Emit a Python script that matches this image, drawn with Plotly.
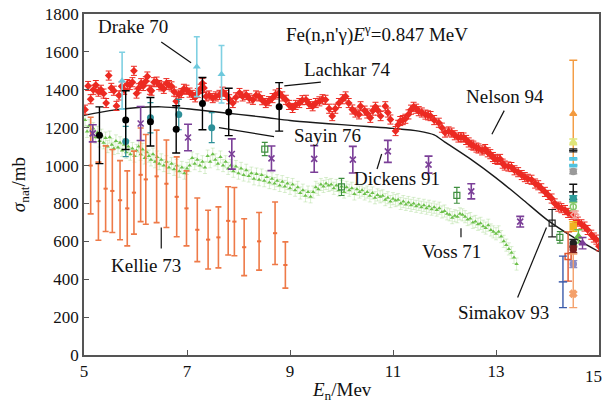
import plotly.graph_objects as go

SERIF = "Liberation Serif"

# ---------------- data ----------------
# Nelson 94 (red)
nelson_x = [5.02,5.08,5.13,5.18,5.23,5.28,5.33,5.38,5.43,5.48,5.53,5.58,5.63,5.68,5.73,5.78,5.84,5.89,5.94,5.97,
            6.02,6.06,6.11,6.15,6.20,6.23,6.28,6.31,6.36,6.41,6.46,6.50,6.55,6.60,6.65,6.70,6.75,6.79,6.84,6.89,
            6.94,6.99,7.05,7.11,7.16,7.21,7.26,7.30,7.33,7.37,7.43,7.50,7.56,7.63,7.69,7.76,7.82,7.89,7.95,8.02,
            8.08,8.15,8.21,8.28,8.34,8.40,8.46,8.53,8.59,8.66,8.72,8.79,8.85,8.92,8.98,9.05,9.11,9.18,9.24,9.31,
            9.37,9.44,9.50,9.57,9.63,9.69,9.76,9.82,9.88,9.95,10.02,10.08,10.14,10.21,10.27,10.34,10.37,10.45,10.50,10.56,
            10.61,10.66,10.71,10.76,10.85,10.90,10.95,11.05,11.10,11.14,11.19,11.24,11.30,11.35,11.40,11.45,11.50,11.56,11.63,11.68,
            11.73,11.80,11.89,11.95,12.01,12.08,12.14,12.20,12.27,12.32,12.37,12.42,12.47,12.52,12.56,12.62,12.66,12.73,12.79,12.84,
            12.89,12.94,12.98,13.03,13.08,13.13,13.17,13.24,13.30,13.36,13.43,13.50,13.56,13.62,13.69,13.76,13.82,13.88,13.95,14.01,
            14.08,14.14,14.21,14.27,14.34,14.40,14.47,14.53,14.59,14.66,14.72,14.78,14.85,14.90,14.95,15.00]
nelson_y = [1295,1420,1350,1400,1425,1390,1400,1380,1330,1475,1410,1395,1315,1370,1418,1400,1430,1425,1440,1500,
            1380,1408,1435,1420,1445,1470,1400,1395,1440,1443,1425,1418,1405,1435,1425,1418,1390,1339,1375,1383,
            1405,1400,1385,1373,1360,1383,1405,1435,1410,1365,1370,1356,1365,1373,1390,1373,1350,1330,1360,1383,
            1365,1373,1355,1347,1370,1365,1345,1330,1340,1356,1375,1383,1365,1347,1320,1304,1320,1330,1345,1347,
            1325,1313,1330,1339,1350,1347,1300,1261,1300,1330,1350,1365,1330,1296,1280,1270,1313,1290,1275,1252,
            1290,1310,1290,1261,1313,1280,1243,1182,1215,1235,1240,1247,1270,1295,1310,1300,1287,1280,1269,1265,
            1261,1240,1226,1200,1174,1180,1174,1160,1148,1150,1148,1135,1122,1110,1105,1095,1090,1080,1087,1070,
            1060,1045,1035,1030,1035,1010,1000,995,992,975,965,950,939,930,925,905,896,880,861,845,
            826,800,783,775,765,750,739,720,704,690,678,660,635,620,609,574]
nelson_err = 24

# Voss 71 (green)
voss_x = [5.02,5.06,5.10,5.14,5.18,5.22,5.26,5.30,5.34,5.38,5.42,5.46,5.50,5.54,5.58,5.62,5.66,5.70,5.74,5.78,
          5.82,5.86,5.90,5.94,5.98,6.02,6.06,6.10,6.14,6.18,6.22,6.26,6.30,6.34,6.38,6.42,6.46,6.50,6.55,6.60,
          6.65,6.70,6.75,6.80,6.85,6.90,6.95,7.00,7.05,7.10,7.15,7.20,7.25,7.30,7.35,7.40,7.45,7.50,7.55,7.60,
          7.65,7.70,7.75,7.80,7.85,7.90,7.95,8.00,8.05,8.10,8.15,8.20,8.25,8.30,8.35,8.40,8.45,8.50,8.55,8.60,
          8.65,8.70,8.75,8.80,8.85,8.90,8.95,9.00,9.05,9.10,9.15,9.20,9.25,9.30,9.35,9.40,9.45,9.50,9.55,9.60,
          9.65,9.70,9.75,9.80,9.85,9.90,9.95,10.00,10.05,10.10,10.15,10.20,10.25,10.30,10.35,10.40,10.45,10.50,10.55,10.60,
          10.65,10.70,10.75,10.80,10.85,10.90,10.95,11.00,11.05,11.10,11.15,11.20,11.25,11.30,11.35,11.40,11.45,11.50,11.55,11.60,
          11.65,11.70,11.75,11.80,11.85,11.90,11.95,12.00,12.05,12.10,12.15,12.20,12.25,12.30,12.35,12.40,12.45,12.50,12.55,12.60,
          12.65,12.70,12.75,12.80,12.85,12.90,12.95,13.00,13.05,13.10,13.15,13.20,13.25,13.30,13.35,13.40]
voss_y = [1240,1180,1210,1160,1195,1150,1175,1130,1160,1120,1145,1100,1150,1110,1090,1130,1095,1120,1080,1110,
          1070,1100,1060,1090,1050,1080,1100,1060,1085,1040,1070,1050,1030,1060,1020,1045,1010,1030,1000,1020,
          990,1010,980,1000,970,990,960,985,1000,1040,1010,1030,1000,1020,990,1050,1020,1060,1030,1010,
          1045,1000,1020,985,1000,970,995,960,985,950,975,945,960,930,955,925,950,920,940,910,
          930,905,920,895,915,890,905,880,900,870,885,855,870,840,860,835,860,885,875,900,
          890,905,895,900,880,895,870,890,860,885,870,880,850,875,860,870,850,860,840,855,
          830,845,835,840,820,830,810,825,815,820,800,810,795,805,790,800,785,795,780,790,
          775,785,770,780,765,775,755,760,745,740,725,735,730,745,740,730,715,720,700,705,
          690,695,680,670,685,660,650,640,650,625,600,580,560,540,515,480]
voss_err = 32

# Evaluation curve (black line)
eval_x = [5.0, 5.5, 6.0, 6.5, 7.0, 7.5, 8.0, 8.5, 9.0, 9.5, 10.0, 10.5, 11.0, 11.5, 11.8, 12.0, 12.5, 13.0, 13.5, 14.0, 14.5, 15.0]
eval_y = [1265, 1290, 1305, 1310, 1300, 1285, 1270, 1255, 1238, 1226, 1216, 1206, 1196, 1182, 1162, 1125, 1035, 935, 825, 712, 622, 545]

# Lachkar 74 (black filled circles)
lachkar_x = [5.30, 5.81, 6.29, 6.79, 7.30, 7.81, 8.79]
lachkar_y = [1160, 1240, 1231, 1191, 1327, 1283, 1310]
lachkar_err = [150, 155, 128, 125, 138, 125, 128]

# Drake 70 (light cyan triangles)
drake_x = [5.74, 7.19, 7.67]
drake_y = [1448, 1522, 1482]
drake_err = [150, 158, 152]

# Sayin 76 (teal circles)
sayin_x = [5.81, 6.29, 6.84, 7.48]
sayin_y = [1127, 1252, 1269, 1200]
sayin_err = [80, 80, 80, 79]

# Dickens 91 (purple crosses)
dickens_x = [5.17, 6.10, 7.02, 7.87, 8.64, 9.47, 10.22, 10.90, 11.69, 12.52, 13.47]
dickens_y = [1170, 1222, 1148, 1061, 1038, 1035, 1031, 1075, 1005, 864, 704]
dickens_err = [45, 90, 70, 80, 65, 70, 70, 58, 45, 40, 28]

# green open squares
gsq_x = [8.51, 10.00, 12.24, 14.24]
gsq_y = [1087, 887, 843, 621]
gsq_err = [35, 45, 42, 30]

# Simakov 93 (black open square)
simakov_x = [14.09]
simakov_y = [696]
simakov_err = [72]

# Kellie 73 (orange error bars)
kellie_x = [5.13, 5.28, 5.42, 5.55, 5.70, 5.84, 5.97, 6.10, 6.20, 6.41, 6.60, 6.80, 6.99,
            7.20, 7.41, 7.61, 7.80, 7.92, 8.11, 8.40, 8.71, 8.91]
kellie_y = [1000, 812, 878, 866, 817, 774, 857, 951, 927, 943, 904, 835, 774,
            661, 609, 621, 708, 704, 569, 600, 643, 475]
kellie_err = [255, 206, 226, 219, 209, 198, 219, 247, 237, 244, 231, 211, 198,
              168, 155, 161, 180, 180, 150, 152, 165, 122]

# 14.5 MeV cluster: x, y, error(+), error(-), colour, symbol
cl_x = [14.50, 14.50, 14.50, 14.50, 14.50, 14.50, 14.50, 14.50, 14.50, 14.53, 14.50, 14.60, 14.50, 14.50, 14.68, 14.40, 14.50, 14.30, 14.50]
cl_y = [1273, 1125, 1080, 1035, 1000, 969, 861, 826, 783, 740, 678, 626, 590, 558, 590, 520, 480, 386, 323]
cl_ep = [283, 15, 8, 6, 6, 12, 40, 15, 22, 20, 25, 35, 20, 18, 30, 130, 18, 136, 210]
cl_em = [270, 15, 8, 6, 6, 12, 40, 15, 22, 20, 25, 35, 20, 18, 30, 130, 18, 136, 73]
cl_col = ["#f39a3e", "#dfe57a", "#222222", "#4fc3e0", "#4fc3e0", "#9a9a9a", "#111111", "#2e9c9a", "#86c96b",
          "#f2a7a0", "#f0b323", "#6cc04a", "#222222", "#7a1c1c", "#7b3f98", "#e0552e", "#8c8cc4", "#3b5bab", "#f4a06a"]
cl_sym = ["triangle-up", "triangle-up", "line-ew", "line-ew", "line-ew", "circle", "line-ew", "circle", "circle-open",
          "diamond-open", "square", "triangle-up", "circle", "circle", "triangle-up", "square-open", "circle", "line-ew", "x"]

x_tickvals = [5, 7, 9, 11, 13, 15]
y_tickvals = [0, 200, 400, 600, 800, 1000, 1200, 1400, 1600, 1800]

# ---------------- figure ----------------
fig = go.Figure()

fig.add_trace(go.Scatter(
    x=voss_x, y=voss_y, mode="markers",
    marker=dict(symbol="triangle-up", size=4, color="#6cc04a"),
    error_y=dict(type="constant", value=voss_err, color="rgba(150,210,120,0.35)", thickness=1, width=2)))

fig.add_trace(go.Scatter(
    x=kellie_x, y=kellie_y, mode="markers",
    marker=dict(symbol="line-ew", size=3, color="#ee6f3c", line=dict(width=2, color="#ee6f3c")),
    error_y=dict(type="data", array=kellie_err, color="#ee7a48", thickness=1.6, width=3)))

fig.add_trace(go.Scatter(
    x=eval_x, y=eval_y, mode="lines", line=dict(color="#1a1a1a", width=1.4, shape="spline", smoothing=0.8)))

fig.add_trace(go.Scatter(
    x=nelson_x, y=nelson_y, mode="markers",
    marker=dict(symbol="diamond", size=6, color="#ec2a22"),
    error_y=dict(type="constant", value=nelson_err, color="#ec2a22", thickness=1, width=3)))

fig.add_trace(go.Scatter(
    x=drake_x, y=drake_y, mode="markers",
    marker=dict(symbol="triangle-up", size=7, color="#6cc8dc"),
    error_y=dict(type="data", array=drake_err, color="#7fd0e2", thickness=1.6, width=3)))

fig.add_trace(go.Scatter(
    x=sayin_x, y=sayin_y, mode="markers",
    marker=dict(symbol="circle", size=7, color="#2d8f98"),
    error_y=dict(type="data", array=sayin_err, color="#2d8f98", thickness=1.2, width=3)))

fig.add_trace(go.Scatter(
    x=dickens_x, y=dickens_y, mode="markers",
    marker=dict(symbol="x-thin", size=6, color="#7b3f98", line=dict(width=1.6, color="#7b3f98")),
    error_y=dict(type="data", array=dickens_err, color="#7b3f98", thickness=1.6, width=4)))

fig.add_trace(go.Scatter(
    x=gsq_x, y=gsq_y, mode="markers",
    marker=dict(symbol="square-open", size=6, color="#3f8f3f", line=dict(width=1.2)),
    error_y=dict(type="data", array=gsq_err, color="#3f8f3f", thickness=1.2, width=3)))

fig.add_trace(go.Scatter(
    x=simakov_x, y=simakov_y, mode="markers",
    marker=dict(symbol="square-open", size=6, color="#222222", line=dict(width=1.2)),
    error_y=dict(type="data", array=simakov_err, color="#222222", thickness=1.2, width=4)))

for i in range(len(cl_x)):
    fig.add_trace(go.Scatter(
        x=[cl_x[i]], y=[cl_y[i]], mode="markers",
        marker=dict(symbol=cl_sym[i], size=6, color=cl_col[i], line=dict(width=1.5, color=cl_col[i])),
        error_y=dict(type="data", array=[cl_ep[i]], arrayminus=[cl_em[i]], symmetric=False,
                     color=cl_col[i], thickness=1.4, width=4)))

fig.add_trace(go.Scatter(
    x=lachkar_x, y=lachkar_y, mode="markers",
    marker=dict(symbol="circle", size=7, color="#000000"),
    error_y=dict(type="data", array=lachkar_err, color="#000000", thickness=1.4, width=4)))

# ---------------- labels ----------------
labels = [
    ("Drake 70", 5.95, 1732),
    ("Fe(n,n'γ)<i>E</i><sup>γ</sup>=0.847 MeV", 10.68, 1698),
    ("Lachkar 74", 10.10, 1508),
    ("Nelson 94", 13.17, 1367),
    ("Sayin 76", 9.72, 1158),
    ("Dickens 91", 11.07, 934),
    ("Voss 71", 12.14, 548),
    ("Kellie 73", 6.20, 470),
    ("Simakov 93", 13.14, 224),
]
annotations = []
for t, ax_, ay_ in labels:
    annotations.append(dict(text=t, x=ax_, y=ay_, xref="x", yref="y", showarrow=False,
                            xanchor="center", yanchor="middle",
                            font=dict(family=SERIF, size=19, color="#111111")))

leaders = [
    (6.50, 1652, 7.08, 1543),
    (8.89, 1421, 9.60, 1440),
    (13.16, 1290, 12.92, 1165),
    (7.62, 1200, 8.69, 1153),
    (10.78, 1061, 10.69, 982),
    (12.32, 669, 12.32, 621),
    (6.50, 673, 6.50, 562),
    (13.42, 304, 13.98, 673),
]
shapes = [dict(type="line", xref="x", yref="y", x0=a, y0=b, x1=c, y1=d,
               line=dict(color="#111111", width=1.2)) for a, b, c, d in leaders]

annotations.append(dict(text="15", x=1.0, y=-0.028, xref="paper", yref="paper", showarrow=False,
                        xanchor="right", yanchor="top", xshift=5,
                        font=dict(family=SERIF, size=17, color="#111111")))
annotations.append(dict(text="<i>E</i><sub>n</sub>/Mev", x=0.5, y=-0.107, xref="paper", yref="paper",
                        showarrow=False, xanchor="center", yanchor="middle",
                        font=dict(family=SERIF, size=19, color="#111111")))
annotations.append(dict(text="<i>σ</i><sub>nat</sub>/mb", x=-0.125, y=0.5, xref="paper", yref="paper",
                        showarrow=False, xanchor="center", yanchor="middle", textangle=-90,
                        font=dict(family=SERIF, size=19, color="#111111")))

axis_common = dict(showline=True, linecolor="#555555", linewidth=1.6, mirror=True,
                   ticks="inside", ticklen=5, tickwidth=1.2, tickcolor="#555555",
                   showgrid=False, zeroline=False,
                   tickfont=dict(family=SERIF, size=17, color="#111111"))

fig.update_layout(
    width=606, height=412,
    margin=dict(l=84, r=5, t=10, b=57),
    paper_bgcolor="white", plot_bgcolor="white",
    showlegend=False,
    font=dict(family=SERIF),
    xaxis=dict(range=[5, 15], tickvals=x_tickvals,
               ticktext=[str(v) if v != 15 else "" for v in x_tickvals], **axis_common),
    yaxis=dict(range=[0, 1800], tickvals=y_tickvals, **axis_common),
    annotations=annotations, shapes=shapes,
)

fig.write_html("out.html")
